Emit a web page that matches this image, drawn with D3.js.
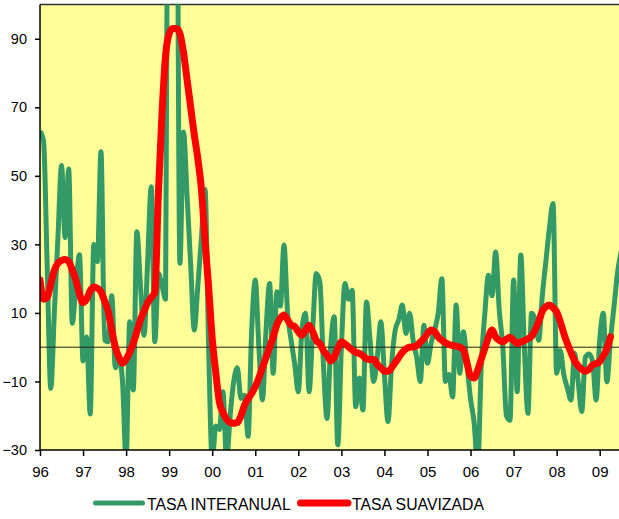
<!DOCTYPE html>
<html>
<head>
<meta charset="utf-8">
<script src="https://cdn.jsdelivr.net/npm/d3@7"></script>
<style>
  body { margin: 0; background: #fff; }
  text { font-family: Arial, "Liberation Sans", sans-serif; }
</style>
</head>
<body>
<div id="chart"></div>
<script>
// monthly series, Jan 1996 onwards
const yearLabels = ["96", "97", "98", "99", "00", "01", "02", "03", "04", "05", "06", "07", "08", "09"];
const yTicks = [-30, -10, 10, 30, 50, 70, 90];

const tasaInteranual = [
    63, 60, 24, -12, 10, 32, 53, 32, 52, 7, 18, 27,
    -4, 3, -19.5, 30, 25, 57, 2, 1.6, 15, -6, -3, -10,
    -33, 7.4, -12.5, 33.7, 18, 3.5, 25, 46.8, 1.6, 21.5, 18, 14,
    250, 300, 200, 24.5, 62.8, 44, 24, 5, 18, 32, 46, 0,
    -33, -23, -24, -13, -33, -20, -10, -6, -15, -14, -26, 5,
    19.6, 0, -15.4, 5, 18.6, -7.6, 16.2, 12, 29.8, 10, 2, -5,
    -13, 5, 9.9, -13, 5, 21.5, 19, -5, -20.8, 0, 8.9, -28.5,
    0, 18.6, 14, 16.6, -17.4, -9, -18.3, 13.2, 2, -10, -3, 7.4,
    -8, -21.7, -5, 5, 8, 12.3, 4, 9.9, 2, -3, -10, 6.4,
    -4.7, 1.1, 5, 10, 20, -10, -8, -14.5, 12.3, -7.6, 4.5, -5,
    -15, -22, -35, -5, 10, 21, 15, 27.8, 10.8, 0, -20, -21.3,
    19.6, -13, 26.9, 0, -19.3, 9.9, 8, 2, 15, 25, 35, 41.9,
    -7.6, -1, -8, -12, -15.4, -1.8, -10, -18.8, -3, -2, -4, -15.4,
    2, 9.9, -10.1, 2, 12, 22, 28
];

const tasaSuavizada = [
    19.6, 14, 14.5, 18.5, 22.5, 24.5, 25.3, 25.6, 25, 22.5, 19.6, 15.5,
    13, 14, 16.5, 17.6, 17.2, 16.2, 13.5, 10.5, 5, 0, -3, -4.7,
    -3.5, -1.5, 1.2, 4.5, 8, 10.5, 13, 14.5, 16, 45, 68, 85,
    91.5, 93, 93, 91.5, 86, 78, 70, 62, 55, 46, 31, 17.5,
    2.5, -7.5, -16, -19, -21, -22, -22.2, -22, -20, -17, -15, -13.5,
    -11.5, -9, -6, -3, 0, 3, 6.5, 8.5, 9.4, 8, 6.5, 6,
    4.5, 3.5, 5, 6.4, 4.5, 2, 1, -1, -2.3, -4, -3, -0.5,
    1.6, 1, 0.1, -0.8, -1.5, -1.8, -2.5, -3.4, -3.6, -3.6, -5, -6,
    -7, -7, -6, -4.5, -3, -1.5, -0.5, 0, 0.1, 0.4, 1.5, 2.5,
    4, 5, 4.5, 3, 2, 1.3, 0.8, 0.5, 0.3, 0, -0.8, -4.5,
    -8.5, -9, -6.7, -3.5, -0.3, 3, 5, 3, 2, 1.6, 2.3, 2.9,
    2, 1.1, 1.5, 1.9, 2.5, 3.2, 5, 7.5, 10.5, 11.8, 12.3, 11.5,
    10.3, 7.5, 4, 1, -1.5, -4, -5.5, -6.5, -7, -6.5, -5.2, -4.8,
    -4.2, -2.5, -0.5, 3
];

const width = 619, height = 519;
const plotLeft = 40, plotTop = 4.5, plotBottom = 450, plotRight = 640;

const svg = d3.select("#chart").append("svg")
    .attr("width", width)
    .attr("height", height);

const x = d3.scaleLinear()
    .domain([0, 156])
    .range([plotLeft, 599.7]);

const y = d3.scaleLinear()
    .domain([-30, 100])
    .range([plotBottom, plotTop]);

// plot area
svg.append("rect")
    .attr("x", plotLeft)
    .attr("y", plotTop)
    .attr("width", plotRight - plotLeft)
    .attr("height", plotBottom - plotTop)
    .style("fill", "#ffff99");

svg.append("line")
    .attr("x1", plotLeft).attr("x2", plotRight)
    .attr("y1", plotTop).attr("y2", plotTop)
    .style("stroke", "#333")
    .style("stroke-width", 1.5);

svg.append("clipPath").attr("id", "clip")
    .append("rect")
    .attr("x", plotLeft).attr("y", plotTop)
    .attr("width", plotRight - plotLeft).attr("height", plotBottom - plotTop);

const line = d3.line()
    .x((d, i) => x(i))
    .y(d => y(d))
    .curve(d3.curveMonotoneX);

svg.append("path")
    .datum(tasaInteranual)
    .attr("clip-path", "url(#clip)")
    .attr("d", line)
    .style("fill", "none")
    .style("stroke", "#339966")
    .style("stroke-width", 5)
    .style("stroke-linejoin", "round");

// zero line
svg.append("line")
    .attr("x1", plotLeft).attr("x2", plotRight)
    .attr("y1", y(0)).attr("y2", y(0))
    .style("stroke", "#222")
    .style("stroke-width", 1);

svg.append("path")
    .datum(tasaSuavizada)
    .attr("clip-path", "url(#clip)")
    .attr("d", line)
    .style("fill", "none")
    .style("stroke", "#ff0000")
    .style("stroke-width", 7)
    .style("stroke-linejoin", "round")
    .style("stroke-linecap", "round");

// axes
const yAxis = svg.append("g")
    .attr("transform", `translate(${plotLeft},0)`)
    .call(d3.axisLeft(y).tickValues(yTicks).tickSize(5).tickSizeOuter(0).tickPadding(8));

const xAxis = svg.append("g")
    .attr("transform", `translate(0,${plotBottom})`)
    .call(d3.axisBottom(x)
        .tickValues(d3.range(0, 157, 12))
        .tickFormat((d, i) => yearLabels[i])
        .tickSize(6).tickSizeOuter(0).tickPadding(10));

yAxis.select(".domain").attr("d", `M0,${plotTop}V${plotBottom}`);
xAxis.select(".domain").attr("d", `M${plotLeft},0H${plotRight}`);

[yAxis, xAxis].forEach(a => {
    a.selectAll(".domain, line").style("stroke", "#000").style("stroke-width", 1.5);
    a.selectAll("text").style("fill", "#000").style("font-family", "Arial, 'Liberation Sans', sans-serif");
});
yAxis.selectAll("text").style("font-size", "14.5px");
xAxis.selectAll("text").style("font-size", "15px");

// legend
const legend = [
    {name: "TASA INTERANUAL", color: "#339966", w: 5, x1: 95.5, x2: 142.5, tx: 147},
    {name: "TASA SUAVIZADA", color: "#ff0000", w: 7, x1: 300.5, x2: 348, tx: 352}
];
const lg = svg.append("g");
legend.forEach(d => {
    lg.append("line")
        .attr("x1", d.x1).attr("x2", d.x2)
        .attr("y1", 503).attr("y2", 503)
        .style("stroke", d.color)
        .style("stroke-width", d.w)
        .style("stroke-linecap", "round");
    lg.append("text")
        .attr("x", d.tx)
        .attr("y", 510)
        .style("font-size", "15.8px")
        .style("fill", "#000")
        .text(d.name);
});
</script>
</body>
</html>
